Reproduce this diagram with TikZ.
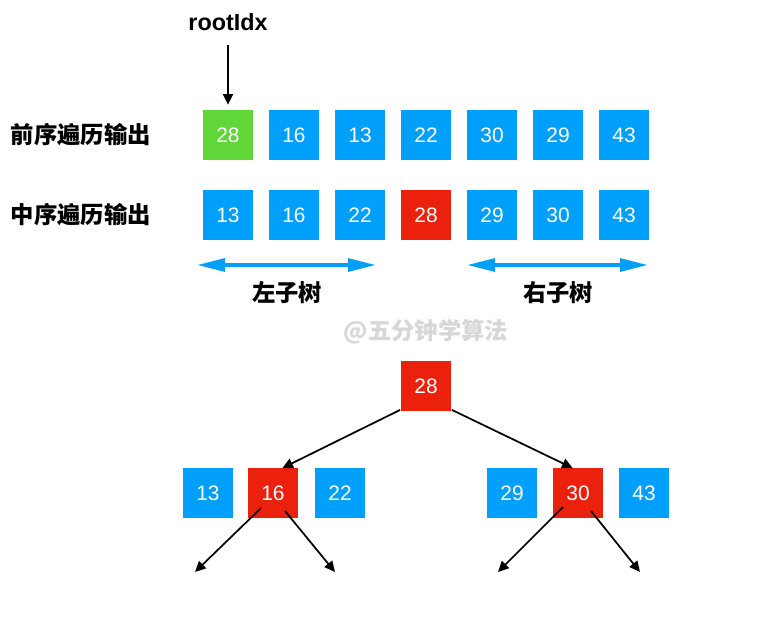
\documentclass[tikz,border=0pt]{standalone}
\usepackage{fontspec}
\setmainfont{Liberation Sans}
\newfontfamily\cjk{Noto Sans CJK SC}
\usetikzlibrary{arrows.meta}

\definecolor{boxblue}{RGB}{0,160,250}
\definecolor{boxgreen}{RGB}{96,214,56}
\definecolor{boxred}{RGB}{235,33,14}
\definecolor{markgray}{RGB}{215,215,215}

\begin{document}
\begin{tikzpicture}[x=0.75pt, y=-0.75pt,
    box/.style={rectangle, minimum size=37pt, inner sep=0pt, text=white,
        font=\fontsize{15.7}{18}\selectfont},
    blue box/.style={box, fill=boxblue},
    green box/.style={box, fill=boxgreen},
    red box/.style={box, fill=boxred},
    title/.style={font=\cjk\bfseries\fontsize{17.5}{20}\selectfont},
    arr/.style={-{Triangle[length=8pt, width=7.5pt]}, line width=1.3pt},
    span/.style={{Triangle[length=21pt, width=9.5pt]}-{Triangle[length=21pt, width=9.5pt]},
        line width=2.8pt, boxblue}]
    \useasboundingbox (0,0) rectangle (768,627);

    % rows
    \node[title] at (81, 135)(pre){前序遍历输出};
    \node[title] at (81, 215)(in){中序遍历输出};
    \node[font=\bfseries\fontsize{17.5}{20}\selectfont] at (228, 22)(root){rootIdx};

    \node[green box] at (228, 135)(p1){28};
    \node[blue box] at (294, 135)(p2){16};
    \node[blue box] at (360, 135)(p3){13};
    \node[blue box] at (426, 135)(p4){22};
    \node[blue box] at (492, 135)(p5){30};
    \node[blue box] at (558, 135)(p6){29};
    \node[blue box] at (624, 135)(p7){43};

    \node[blue box] at (228, 215)(i1){13};
    \node[blue box] at (294, 215)(i2){16};
    \node[blue box] at (360, 215)(i3){22};
    \node[red box] at (426, 215)(i4){28};
    \node[blue box] at (492, 215)(i5){29};
    \node[blue box] at (558, 215)(i6){30};
    \node[blue box] at (624, 215)(i7){43};

    % subtrees
    \coordinate (la) at (197, 265);
    \coordinate (lb) at (376, 265);
    \coordinate (ra) at (467, 265);
    \coordinate (rb) at (648, 265);
    \node[title] at (287, 293)(left){左子树};
    \node[title] at (558, 293)(right){右子树};
    \node[title, text=markgray] at (426, 332)(mark){@五分钟学算法};

    % tree
    \node[red box] at (426, 386)(t28){28};
    \node[blue box] at (208, 493)(t13){13};
    \node[red box] at (273, 493)(t16){16};
    \node[blue box] at (340, 493)(t22){22};
    \node[blue box] at (512, 493)(t29){29};
    \node[red box] at (578, 493)(t30){30};
    \node[blue box] at (644, 493)(t43){43};

    \coordinate (l16) at (195, 572);
    \coordinate (r16) at (335, 572);
    \coordinate (l30) at (498, 572);
    \coordinate (r30) at (640, 572);

    \draw[arr, shorten <=7pt, shorten >=4pt] (root.south) -- (p1.north);
    \draw[span] (la) -- (lb);
    \draw[span] (ra) -- (rb);

    \draw[arr] ([shift={(-1,-1)}]t28.south west) -- ([xshift=7pt]t16.north);
    \draw[arr] ([shift={(1,-1)}]t28.south east) -- ([xshift=-4pt]t30.north);
    \draw[arr] ([shift={(-12,15)}]t16.center) -- (l16);
    \draw[arr] ([shift={(12,18)}]t16.center) -- (r16);
    \draw[arr] ([shift={(-15,14)}]t30.center) -- (l30);
    \draw[arr] ([shift={(13,18)}]t30.center) -- (r30);
\end{tikzpicture}
\end{document}
